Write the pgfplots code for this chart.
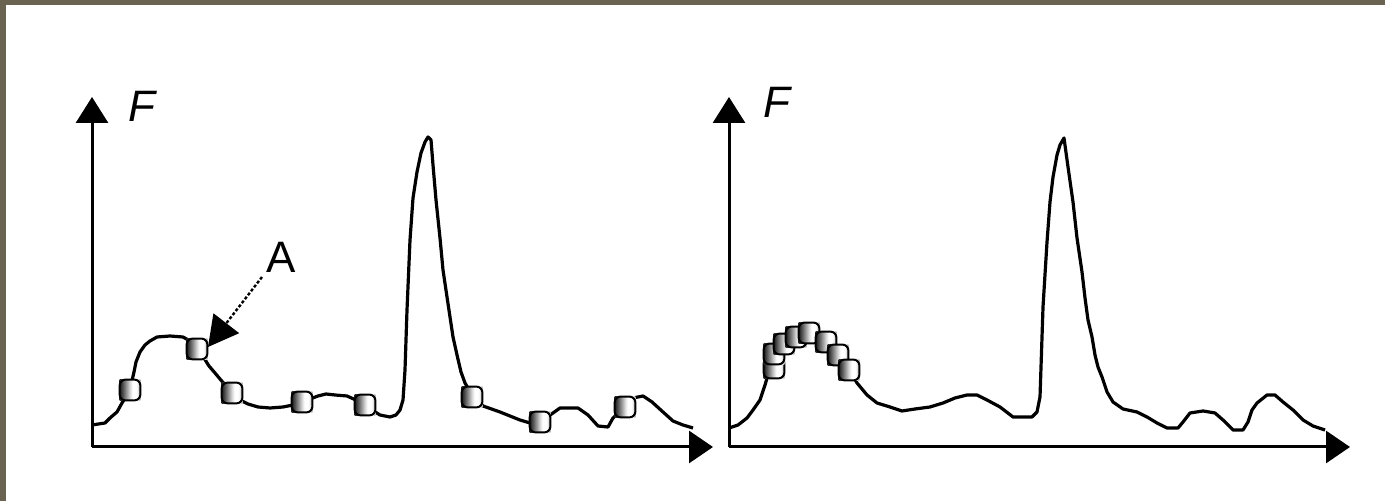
\documentclass[border=0pt]{standalone}
\usepackage{pgfplots}
\usepackage{pgfplotstable}
\pgfplotsset{compat=1.18}
\usetikzlibrary{arrows.meta}
\usepackage{fontspec}
\setmainfont{Liberation Sans}
\definecolor{framebrown}{RGB}{107,99,82}

% shaded bead used as plot mark: dark on the left, bright towards the right
\pgfdeclarehorizontalshading{beadshade}{100bp}{%
  color(0bp)=(black!85); color(27bp)=(black!85); color(37bp)=(black!55);
  color(50bp)=(black!15); color(56bp)=(white); color(66bp)=(white);
  color(75bp)=(black!30); color(100bp)=(black!30)}
\pgfdeclareplotmark{bead}{%
  \pgfsetcornersarced{\pgfpoint{3pt}{3pt}}%
  \pgfpathrectanglecorners{\pgfpoint{-\pgfplotmarksize}{-\pgfplotmarksize}}%
                          {\pgfpoint{\pgfplotmarksize}{\pgfplotmarksize}}%
  \pgfshadepath{beadshade}{0}%
  \pgfusepath{stroke}%
}

% fitness landscape (left panel)
\pgfplotstableread{
x y
0 22
13 24
18 29
25 35
30 44
35 52
39 62
42 75
44 85
48 95
53 102
58 106
65 110
78 111
91 110
98 106
105 98
112 89
117 81
123 74
128 68
135 60
140 54
148 47
156 43
166 40
178 39
191 40
201 42
210 45
218 48
226 51
234 53
243 52
255 51
266 46
273 42
280 37
288 32
298 30
304 32
308 37
311 47
313 77
315 137
318 207
321 249
325 275
329 294
333 305
336 310
339 307
341 282
344 247
348 209
351 177
355 150
358 130
361 110
365 92
369 75
373 64
380 52
391 41
408 35
428 27
438 24
448 25
461 34
468 39
486 39
496 32
506 21
516 20
521 29
533 40
541 49
551 51
560 45
571 35
581 26
591 22
601 19
}\curveA

% particles spread over the landscape
\pgfplotstableread{
x y
38 57
105 98
140 54
210 45
273 42
380 50
448 25
533 40
}\beadsA

% fitness landscape (right panel)
\pgfplotstableread{
x y
0 19
9 22
18 29
24 37
31 47
36 62
41 79
46 92
53 102
61 109
71 114
79 116
89 113
99 107
109 95
119 80
128 64
138 52
148 44
161 40
173 36
186 38
201 40
214 44
226 49
238 52
248 52
258 47
271 40
284 30
303 30
308 35
311 50
314 140
318 205
321 245
324 270
328 292
331 302
335 309
339 280
344 245
348 209
353 175
356 149
359 127
363 110
366 92
369 80
373 70
378 55
384 45
394 38
408 35
418 30
428 24
438 19
449 19
454 25
461 34
474 36
486 34
494 27
504 17
514 17
519 25
523 37
528 44
538 52
546 52
554 45
564 37
574 27
584 21
596 17
}\curveB

% particles gathered on the local hill
\pgfplotstableread{
x y
45 79
45 93
55 103
67 110
80 114
97 105
109 92
120 77
}\beadsB

\begin{document}
\begin{tikzpicture}
\useasboundingbox (0,0) rectangle (692.5pt,250.5pt);
\fill[white] (0,0) rectangle (692.5pt,250.5pt);
\fill[framebrown] (0,0) rectangle (3pt,250.5pt);
\fill[framebrown] (0,248pt) rectangle (692.5pt,250.5pt);

\pgfplotsset{
  landscape/.style={
    scale only axis, width=310.5pt, height=175pt,
    xmin=0, xmax=621, ymin=0, ymax=350,
    axis lines=left, xtick=\empty, ytick=\empty, clip=false,
    axis line style={line width=1.5pt},
    x axis line style={-{Triangle[width=16pt,length=12pt]}},
    y axis line style={-{Triangle[width=16pt,length=13pt]}},
    anchor=south west,
  },
  curve/.style={black, line width=1.6pt, line join=round, mark=none},
  beads/.style={black, only marks, mark=bead, mark size=5.2pt,
    mark options={line width=1pt}},
}

\begin{axis}[landscape, at={(46pt,27pt)}]
  \addplot[curve] table {\curveA};
  \addplot[beads] table {\beadsA};
  \draw[line width=1.2pt, dash pattern=on 1.5pt off 1pt,
        -{Triangle[width=16pt,length=15pt]}]
        (axis cs:170,170) -- (axis cs:116,100);
  \node[font=\fontsize{22}{26}\selectfont] at (axis cs:189.5,190) {A};
  \node[font=\fontsize{22}{26}\selectfont\itshape] at (axis cs:50,341) {F};
\end{axis}

\begin{axis}[landscape, at={(364.5pt,27pt)}]
  \addplot[curve] table {\curveB};
  \addplot[beads] table {\beadsB};
  \node[font=\fontsize{22}{26}\selectfont\itshape] at (axis cs:48,345) {F};
\end{axis}
\end{tikzpicture}
\end{document}
